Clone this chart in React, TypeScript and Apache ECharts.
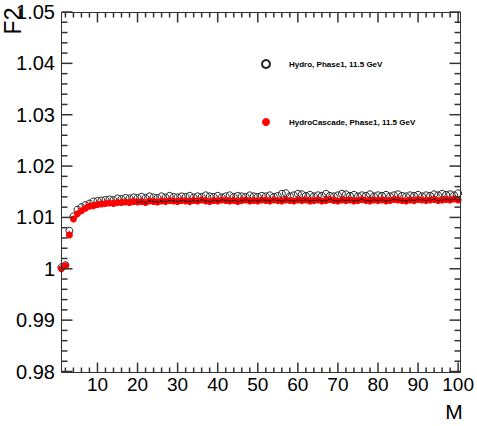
import React, { useEffect, useRef } from "react";
import * as echarts from "echarts";

const mValues: number[] = Array.from({ length: 100 }, (_, i) => i + 1);

const hydro: number[] = [
  1.0003, 1.0007, 1.0074, 1.0102, 1.0115, 1.012, 1.0124, 1.0127, 1.0131, 1.0132,
  1.0133, 1.0134, 1.0135, 1.0134, 1.0137, 1.0136, 1.0138, 1.0137, 1.0139, 1.0138,
  1.014, 1.0138, 1.0141, 1.0139, 1.0138, 1.0141, 1.0139, 1.0142, 1.014, 1.0139,
  1.0141, 1.014, 1.0142, 1.0139, 1.0141, 1.014, 1.0143, 1.0141, 1.014, 1.0142,
  1.0139, 1.0141, 1.0143, 1.014, 1.0142, 1.0141, 1.014, 1.0143, 1.0141, 1.014,
  1.0142, 1.0141, 1.0143, 1.014, 1.0142, 1.0146, 1.0147, 1.0141, 1.0143, 1.0146,
  1.0145, 1.0142, 1.0144, 1.0141, 1.0143, 1.0142, 1.0146, 1.0142, 1.0141, 1.0143,
  1.0146, 1.0145, 1.0142, 1.0144, 1.0141, 1.0143, 1.0142, 1.0145, 1.0141, 1.0143,
  1.0142, 1.0144, 1.0141, 1.0143, 1.0145, 1.0142, 1.0141, 1.0143, 1.0142, 1.0144,
  1.0141, 1.0143, 1.0142, 1.0145, 1.0143, 1.0146, 1.0144, 1.0145, 1.0143, 1.0147,
];

const cascade: number[] = [
  1.0, 1.0006, 1.0066, 1.0097, 1.0107, 1.0113, 1.0118, 1.0122, 1.0123, 1.0125,
  1.0126, 1.0127, 1.0128, 1.0127, 1.0129, 1.0129, 1.013, 1.0129, 1.0131, 1.013,
  1.0131, 1.0129, 1.0132, 1.0131, 1.013, 1.0132, 1.0131, 1.0133, 1.0132, 1.0131,
  1.0133, 1.0132, 1.0131, 1.0133, 1.0132, 1.0134, 1.0132, 1.0131, 1.0133, 1.0132,
  1.0134, 1.0133, 1.0132, 1.0133, 1.0131, 1.0133, 1.0134, 1.0132, 1.0133, 1.0132,
  1.0134, 1.0133, 1.0132, 1.0134, 1.0133, 1.0132, 1.0134, 1.0133, 1.0132, 1.0134,
  1.0133, 1.0134, 1.0132, 1.0133, 1.0134, 1.0132, 1.0133, 1.0135, 1.0133, 1.0132,
  1.0134, 1.0133, 1.0134, 1.0132, 1.0133, 1.0135, 1.0133, 1.0132, 1.0134, 1.0133,
  1.0134, 1.0132, 1.0133, 1.0135, 1.0134, 1.0133, 1.0132, 1.0134, 1.0133, 1.0135,
  1.0134, 1.0133, 1.0134, 1.0135, 1.0133, 1.0134, 1.0135, 1.0134, 1.0136, 1.0134,
];

const xMajorTicks: number[] = [10, 20, 30, 40, 50, 60, 70, 80, 90, 100];
const xMinorTicks: number[] = [
  2, 4, 6, 8, 12, 14, 16, 18, 22, 24, 26, 28, 32, 34, 36, 38, 42, 44, 46, 48,
  52, 54, 56, 58, 62, 64, 66, 68, 72, 74, 76, 78, 82, 84, 86, 88, 92, 94, 96, 98,
];
const yMajorTicks: number[] = [0.98, 0.99, 1.0, 1.01, 1.02, 1.03, 1.04, 1.05];
const yMinorTicks: number[] = [
  0.982, 0.984, 0.986, 0.988, 0.992, 0.994, 0.996, 0.998,
  1.002, 1.004, 1.006, 1.008, 1.012, 1.014, 1.016, 1.018,
  1.022, 1.024, 1.026, 1.028, 1.032, 1.034, 1.036, 1.038,
  1.042, 1.044, 1.046, 1.048,
];

const seriesNames: string[] = ["Hydro, Phase1, 11.5 GeV", "HydroCascade, Phase1, 11.5 GeV"];

const FONT = "Liberation Sans, Arial, Helvetica, sans-serif";
const AXIS_COLOR = "#333";
const X_MIN = 0.9;
const X_MAX = 100.4;
const Y_MIN = 0.98;
const Y_MAX = 1.05;

export default function App() {
  const ref = useRef<HTMLDivElement>(null);

  useEffect(() => {
    document.body.style.margin = "0";
    if (!ref.current) return;
    const chart = echarts.init(ref.current, undefined, { renderer: "svg" });

    const hydroData = mValues.map((m, i) => [m, hydro[i]]);
    const cascadeData = mValues.map((m, i) => [m, cascade[i]]);

    chart.setOption({
      animation: false,
      backgroundColor: "#fff",
      grid: { left: 61, right: 17, top: 12, bottom: 54.5 },
      xAxis: {
        type: "value",
        min: X_MIN,
        max: X_MAX,
        splitLine: { show: false },
        axisLine: { show: false, onZero: false },
        axisTick: { show: false },
        axisLabel: {
          show: true,
          customValues: xMajorTicks,
          fontSize: 19,
          color: "#000",
          fontFamily: FONT,
          margin: 3,
        },
      },
      yAxis: {
        type: "value",
        min: Y_MIN,
        max: Y_MAX,
        interval: 0.01,
        splitLine: { show: false },
        axisLine: { show: false, onZero: false },
        axisTick: { show: false },
        axisLabel: {
          show: true,
          fontSize: 20,
          color: "#000",
          fontFamily: FONT,
          margin: 6,
          formatter: (v: number) => String(parseFloat(v.toFixed(2))),
        },
      },
      legend: {
        show: true,
        orient: "vertical",
        left: 261,
        top: 58,
        padding: 0,
        itemWidth: 8,
        itemHeight: 8,
        itemGap: 46,
        textStyle: {
          fontSize: 8,
          fontWeight: "bold",
          color: "#000",
          fontFamily: FONT,
          padding: [0, 0, 0, 14],
          lineHeight: 12,
        },
        data: [
          { name: seriesNames[0], icon: "circle" },
          { name: seriesNames[1], icon: "circle" },
        ],
      },
      series: [
        {
          name: seriesNames[0],
          type: "scatter",
          symbol: "circle",
          symbolSize: 7,
          itemStyle: { color: "rgba(255,255,255,0)", borderColor: "#222", borderWidth: 1, opacity: 1 },
          data: hydroData,
          z: 2,
        },
        {
          name: seriesNames[1],
          type: "scatter",
          symbol: "circle",
          symbolSize: 7,
          itemStyle: { color: "#ff0000", opacity: 1 },
          data: cascadeData,
          z: 3,
        },
      ],
    });

    const px = (x: number, y: number) => chart.convertToPixel({ gridIndex: 0 }, [x, y]) as number[];
    const top = Math.round(px(X_MIN, Y_MAX)[1]) + 0.5;
    const bottom = Math.round(px(X_MIN, Y_MIN)[1]) + 0.5;
    const left = Math.round(px(X_MIN, Y_MIN)[0]) + 0.5;
    const right = Math.round(px(X_MAX, Y_MIN)[0]) + 0.5;

    const tickStyle = { stroke: AXIS_COLOR, lineWidth: 1.5, fill: "none" };
    const ticks: any[] = [];
    const addX = (vals: number[], len: number) => {
      vals.forEach((v) => {
        const x = px(v, Y_MIN)[0];
        ticks.push(
          { type: "line", silent: true, z: 10, shape: { x1: x, y1: bottom, x2: x, y2: bottom - len }, style: tickStyle },
          { type: "line", silent: true, z: 10, shape: { x1: x, y1: top, x2: x, y2: top + len }, style: tickStyle }
        );
      });
    };
    const addY = (vals: number[], len: number) => {
      vals.forEach((v) => {
        const y = px(X_MIN, v)[1];
        ticks.push(
          { type: "line", silent: true, z: 10, shape: { x1: left, y1: y, x2: left + len, y2: y }, style: tickStyle },
          { type: "line", silent: true, z: 10, shape: { x1: right, y1: y, x2: right - len, y2: y }, style: tickStyle }
        );
      });
    };
    addX(xMajorTicks, 10);
    addX(xMinorTicks, 5);
    addY(yMajorTicks, 11);
    addY(yMinorTicks, 6);

    // horizontal error bars of the cascade points
    const barLines = cascadeData
      .filter((d) => d[0] >= 20)
      .map((d) => {
        const a = px(d[0] - 0.4, d[1]);
        const b = px(d[0] + 0.4, d[1]);
        return {
          type: "line",
          silent: true,
          z: 9,
          shape: { x1: a[0], y1: a[1], x2: b[0], y2: b[1] },
          style: { stroke: "#111", lineWidth: 1.3 },
        };
      });

    chart.setOption({
      graphic: [
        {
          type: "rect",
          silent: true,
          z: 10,
          shape: { x: left, y: top, width: right - left, height: bottom - top },
          style: { fill: "none", stroke: AXIS_COLOR, lineWidth: 1 },
        },
        ...ticks,
        ...barLines,
        {
          type: "text",
          x: 13,
          y: 21,
          rotation: Math.PI / 2,
          style: {
            text: "F2",
            fontSize: 23,
            fontFamily: FONT,
            fill: "#000",
            align: "center",
            verticalAlign: "middle",
          },
        },
        {
          type: "text",
          x: 454,
          y: 411,
          style: {
            text: "M",
            fontSize: 21,
            fontFamily: FONT,
            fill: "#000",
            align: "center",
            verticalAlign: "middle",
          },
        },
      ],
    });

    return () => {
      chart.dispose();
    };
  }, []);

  return <div ref={ref} style={{ width: 477, height: 426 }} />;
}
